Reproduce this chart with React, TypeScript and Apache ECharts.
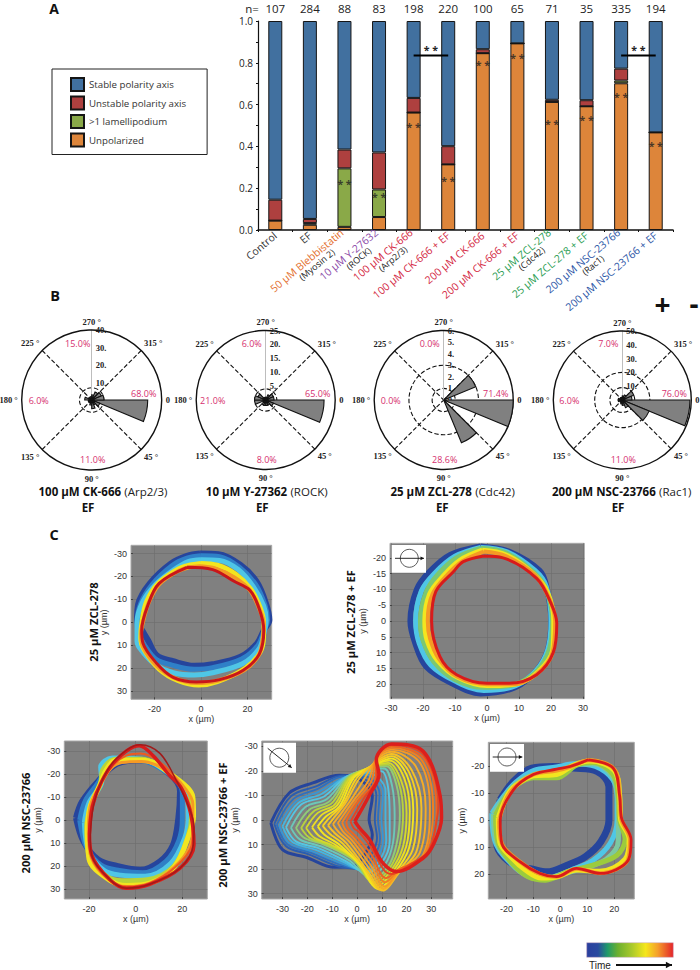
import React, { useEffect, useRef } from "react";
import * as echarts from "echarts";

const categories = ["Control", "EF", "50 µM Blebbistatin", "10 µM Y-27632", "100 µM CK-666", "100 µM CK-666 + EF", "200 µM CK-666", "200 µM CK-666 + EF", "25 µM ZCL-278", "25 µM ZCL-278 + EF", "200 µM NSC-23766", "200 µM NSC-23766 + EF"];
const subLabels = ["", "", "(Myosin 2)", "(ROCK)", "(Arp2/3)", "", "", "", "(Cdc42)", "", "(Rac1)", ""];
const labelTone = ["k", "k", "o", "p", "r", "r", "r", "r", "g", "g", "b", "b"];
const nValues = ["107", "284", "88", "83", "198", "220", "100", "65", "71", "35", "335", "194"];
const unpolarized = [0.045, 0.025, 0.015, 0.062, 0.562, 0.314, 0.846, 0.893, 0.613, 0.592, 0.702, 0.467];
const lamellipodium = [0, 0.008, 0.28, 0.132, 0, 0, 0, 0, 0, 0, 0.013, 0];
const unstable = [0.1, 0.02, 0.09, 0.177, 0.07, 0.087, 0.019, 0, 0.01, 0.029, 0.057, 0];
const stable = [0.855, 0.947, 0.615, 0.629, 0.368, 0.599, 0.135, 0.107, 0.377, 0.379, 0.228, 0.533];
const starMarks = [[2, 0.22], [3, 0.16], [4, 0.494], [5, 0.236], [6, 0.791], [7, 0.822], [8, 0.508], [9, 0.527], [10, 0.637], [11, 0.4]];
const brackets = [[4, 5, 0.835], [10, 11, 0.835]];

const roseBins = [
  [32, 5, 3, 5, 3, 2, 2, 2, 4, 2, 1, 2, 3, 5, 6, 7],
  [21, 3, 2, 2, 2, 2, 1, 4, 4, 3, 1, 1, 1, 2, 3, 3],
  [6, 0, 4, 0, 0, 0, 0, 0, 0, 0, 0, 0, 0, 0, 3, 0],
  [49, 21, 6, 4, 3, 2, 2, 3, 3, 2, 2, 2, 3, 4, 9, 7],
];
const roseMax = [40, 25, 6, 50];
const roseStep = [10, 5, 1, 10];
const roseRings = [[7], [4], [1, 3], [9, 20]];
const rosePercents = [
  ["68.0%", "11.0%", "6.0%", "15.0%"],
  ["65.0%", "8.0%", "21.0%", "6.0%"],
  ["71.4%", "28.6%", "0.0%", "0.0%"],
  ["76.0%", "11.0%", "6.0%", "7.0%"],
];
const roseTitles = [
  ["100 µM CK-666", "(Arp2/3)"],
  ["10 µM Y-27362", "(ROCK)"],
  ["25 µM ZCL-278", "(Cdc42)"],
  ["200 µM NSC-23766", "(Rac1)"],
];

const zcl = [
  [[-0.4, -30], [7.5, -29.7], [17, -25], [24, -17.6], [28, -8], [29.4, -1], [27, 3.5], [24, 9.3], [17, 15], [5, 18.3], [-3, 19], [-12, 17], [-19, 14.4], [-22.7, 8], [-25, 4], [-27.5, -1], [-27, -8], [-22, -17], [-13, -25.6], [-6, -29]],
  [[0, -29], [8, -28.6], [16.5, -24], [23.5, -16.5], [27.5, -7.5], [28.6, -1], [27, 4], [24.5, 10], [17.5, 16], [5, 19.8], [-3, 20.5], [-12, 18.8], [-19.5, 16], [-24, 10.5], [-26.5, 6.5], [-27.5, 0.6], [-26, -8], [-21, -16.5], [-12.5, -24.7], [-6, -28]],
  [[0, -27.3], [8, -27], [16, -23], [22.5, -15.5], [27, -7], [28, -1], [27, 5], [25, 11.5], [18, 18], [5, 22], [-3, 23], [-12, 22], [-19.5, 18.5], [-25, 13], [-27.5, 8.5], [-27.5, 0], [-25, -9], [-19.5, -16.5], [-11.5, -23], [-5.5, -26.5]],
  [[0, -25.8], [7, -25], [15, -21], [21.5, -14.5], [25.5, -6.5], [27, 0], [27, 6], [25.5, 13], [19, 20], [7, 26], [-1, 27.5], [-10, 25.5], [-18, 20.5], [-24.5, 12], [-26, 7], [-25.5, 0], [-23.5, -9], [-18.5, -17], [-10.5, -23], [-5, -25]],
  [[0, -24.5], [6, -23.5], [14.5, -19.5], [21, -14], [25, -6], [27, 1], [26.5, 7], [25, 14], [18.5, 21], [7, 25.5], [-2, 26.5], [-11, 24.5], [-19, 19], [-25, 10.5], [-25.8, 5], [-25, 0], [-22.5, -8.5], [-18, -16.5], [-10.5, -22], [-5, -24]],
  [[-6, -24], [5, -23], [14, -18], [21, -14], [25, -6], [27, 3.5], [25, 14], [18, 21], [8, 25], [-2, 26], [-12, 24], [-19, 18], [-25, 9], [-25.5, 3.5], [-23, -7], [-18, -17]],
];
const zclEf = [
  [[-2, -23.7], [7, -22], [16.5, -16], [18.6, -11], [20, 0], [19, 9], [15.5, 15.5], [9, 21], [-2, 23], [-10.5, 20], [-19, 14.5], [-22.5, 7], [-24, 0], [-22, -10], [-18, -15.6], [-11.5, -21]],
  [[-2, -23.3], [6, -22], [15, -16], [18.5, -11], [20, 0], [19, 9], [15.5, 15.5], [9, 20.5], [-1, 22], [-10, 19], [-17.5, 14], [-21.2, 7], [-22.3, 0], [-20.5, -9.5], [-16.5, -15], [-10, -20.5]],
  [[-2, -23], [6, -21.5], [14.5, -15.5], [18.5, -10], [20.5, 0], [19.5, 9], [15.5, 16], [9, 20], [-1, 21], [-10, 18.5], [-16.5, 13], [-20, 6], [-20.8, 0], [-19, -9], [-15.5, -14.5], [-9.5, -20]],
  [[-1.5, -22.5], [6, -21], [14.5, -15], [19, -9], [20.8, 0], [20.5, 9], [16, 16], [9, 20], [0, 20.5], [-9, 18], [-15.5, 12.5], [-18.8, 6], [-19.5, 0], [-18, -8.5], [-14, -14], [-8.5, -19.3]],
  [[-1, -22], [6, -20.5], [15, -14.5], [19.5, -7], [21.3, 0], [20.5, 10], [15.5, 16.8], [8, 20], [0, 20], [-9.5, 17.5], [-15, 12], [-17.8, 5.5], [-18.5, 0], [-17, -8.5], [-12, -15], [-7.5, -19]],
  [[-1, -20.6], [5, -20], [15.5, -13.5], [20, -5.6], [21.8, 0.7], [20.7, 10], [15.5, 17], [7, 19.7], [0, 19.7], [-9.5, 17], [-14.7, 11.3], [-17.3, 0], [-16, -9.3], [-10.5, -15.6], [-7.4, -18.8]],
];
const nsc = [
  [[-25.6, -0.9], [-23, -8], [-16, -17], [-8, -24.5], [3, -26], [14.7, -19.8], [19, -12.5], [18.3, -0.9], [16, 10.8], [10.4, 18], [1.9, 21.7], [-8, 20], [-16, 17.3], [-22.4, 9.3]],
  [[-24, 0], [-21.5, -8.5], [-15, -18], [-14, -24], [-9, -26.5], [2, -26], [15, -19.5], [20, -12], [20, -0.5], [18.5, 9], [13, 18], [3, 23], [-7, 22], [-15, 19.5], [-21, 12]],
  [[-22, 1], [-20, -7.5], [-14.5, -17], [-15, -23], [-10, -27], [2.5, -26.5], [16, -19], [22, -12], [22.5, -1], [21, 8], [15, 19], [4, 24.5], [-6.5, 24], [-13.5, 22], [-20, 14]],
  [[-21, 2], [-19, -7], [-15, -16], [-14, -22], [-8.5, -26.5], [2.5, -26.5], [17, -18.5], [23.5, -11], [24, -2], [22.5, 7], [16.5, 20], [5, 26], [-6, 26.5], [-12.5, 24.5], [-20, 16]],
  [[-20.7, 3.5], [-19.5, -6], [-15.5, -15], [-12.5, -22], [-8.5, -26], [3, -26], [17.5, -18], [24.5, -10], [24.8, -2], [23, 6], [16.5, 20.5], [6, 27.5], [-4, 28.5], [-11.5, 26], [-20, 17]],
  [[-20.3, 5], [-19.5, -6], [-15, -15.5], [-10.5, -22.5], [-6, -25], [2.5, -25.5], [14, -21], [21, -14], [24.5, -7], [24.5, 3], [23, 12], [16.5, 20.5], [6, 27.5], [-4, 29], [-11.5, 26], [-19, 16.5]],
  [[-20, 5.5], [-19, -6], [-15, -16], [-9.5, -24], [-4, -28], [2, -29], [10, -25.5], [18, -17], [23, -7], [24.5, 3], [24, 11], [17, 20.5], [6, 27.5], [-4, 29], [-11.5, 26], [-19, 16]],
  [[-19.8, 6], [-18.5, -6], [-14.5, -17], [-8.5, -26], [1.5, -32.3], [7.5, -28], [14, -20], [19.5, -14], [23, -5], [24.5, 3], [25, 10.8], [19, 21], [6, 28], [-3.9, 29.7], [-11, 26], [-18.9, 15]],
  [[-19.5, 7], [-18, -6.7], [-13.9, -18.3], [-8, -27], [1.9, -32.8], [10.4, -29], [17.6, -16.9], [23, -5], [25, 3], [24.7, 10.8], [19, 21], [6, 28], [-3.9, 29.7], [-11, 26], [-18.9, 15]],
];
const nscEf = [
  [[-34.7, 1.2], [-27.3, -11], [-17.8, -15.1], [-7, -18.2], [1.1, -16.5], [6.2, -9.7], [4.9, -0.1], [6.2, 6], [3.5, 13.5], [-1.6, 18.9], [-9, 19.3], [-20.5, 15.2], [-30, 12.1]],
  [[-33.3, 1.6], [-26.6, -9.7], [-16.5, -13.7], [-5.7, -18.2], [2.4, -17.1], [7.8, -10.3], [7.2, -0.1], [8.1, 7.3], [5.8, 14.1], [1.1, 19.9], [-7.7, 18.9], [-19.2, 14.1], [-28.6, 10.7]],
  [[-32.3, 1.9], [-25.6, -8.6], [-15.8, -12.7], [-5.3, -17.8], [3.1, -17.8], [9.1, -10.6], [8.5, -0.1], [9.3, 7.6], [6.8, 15.1], [1.8, 20.1], [-7, 18.2], [-18.5, 13.4], [-28, 10]],
  [[-31.3, 2.2], [-24.6, -7.6], [-15.1, -11.7], [-5, -17.4], [3.8, -18.5], [10.5, -11], [9.9, -0.1], [10.5, 8], [7.8, 16.2], [2.4, 20.3], [-6.3, 17.6], [-17.8, 12.8], [-27.3, 9.4]],
  [[-30, 2.6], [-23.5, -7], [-14.1, -10.7], [-4.5, -17.6], [4.5, -19.2], [11.5, -12], [11.5, -0.4], [11.8, 8.4], [8.8, 16.9], [3.1, 21], [-5.3, 17.2], [-16.8, 12.1], [-26, 9]],
  [[-28.6, 3], [-22.5, -6.3], [-13.1, -9.7], [-4, -17.8], [5.1, -19.9], [9.9, -19.9], [12.6, -13], [13.2, -0.8], [13.2, 8.7], [9.9, 17.6], [3.8, 21.6], [-4.3, 16.9], [-15.8, 11.4], [-24.6, 8.7]],
  [[-26.6, 3.2], [-20.8, -5.3], [-12.1, -8.6], [-3.6, -17.8], [5.4, -20.6], [11, -21], [14.2, -13.7], [15.2, -1.5], [14.5, 9.4], [11.2, 18.3], [4.8, 23], [-3, 16.5], [-14.4, 10.8], [-22.9, 8]],
  [[-24.6, 3.3], [-19.2, -4.2], [-11.1, -7.6], [-3.2, -17.8], [5.8, -21.2], [11.9, -21.9], [15.9, -14.4], [17.3, -2.2], [15.9, 10.1], [12.6, 18.9], [5.8, 24.4], [-1.6, 16.2], [-13.1, 10.1], [-21.2, 7.3]],
  [[-22.5, 3.3], [-17.5, -3.5], [-10, -7], [-3, -17.5], [6.1, -21.6], [12.2, -22.6], [16.9, -15], [18.6, -2.5], [17.2, 10.4], [13.2, 19.6], [6.5, 25.4], [-1, 16.2], [-11.8, 10.1], [-19.1, 7.3]],
  [[-20.5, 3.3], [-15.8, -2.9], [-9, -6.3], [-2.7, -17.1], [6.5, -21.9], [12.6, -23.3], [17.9, -15.8], [20, -2.9], [18.6, 10.7], [13.9, 20.3], [7.2, 26.4], [-0.3, 16.2], [-10.4, 10.1], [-17.1, 7.3]],
  [[-18.1, 3], [-14.1, -2.2], [-8, -6], [-2, -17.1], [6.8, -22.2], [13.2, -24.2], [19, -17.2], [21.3, -3.5], [19.8, 11], [14.5, 21], [7.8, 27.2], [0.7, 17.5], [-8.7, 10.1], [-15.1, 6.6]],
  [[-15.8, 2.6], [-12.4, -1.5], [-7, -5.6], [-1.3, -17.1], [7.2, -22.6], [13.9, -25], [20, -18.5], [22.7, -4.2], [21, 11.4], [15.2, 21.6], [8.5, 28], [1.8, 18.9], [-7, 10.1], [-13.1, 6]],
  [[-13.8, 2.4], [-10.9, -1.1], [-5.8, -6.2], [-0.1, -17.1], [7.5, -23.2], [13.9, -26], [21, -19.5], [24.3, -4.5], [22.5, 12], [16.2, 21.3], [9.4, 28.4], [3.1, 20], [-5.6, 9.7], [-11, 5.6]],
  [[-11.7, 2.2], [-9.4, -0.8], [-4.6, -6.9], [1.1, -17.1], [7.8, -23.9], [13.9, -26.9], [22, -20.5], [26, -4.9], [24, 12.8], [17.3, 21], [10.3, 28.8], [4.5, 21], [-4.3, 9.4], [-9, 5.3]],
  [[-9.7, 1.7], [-7.8, -0.8], [-3.1, -7.2], [2.8, -16.5], [7.8, -24.4], [13.9, -27.8], [23.7, -21.9], [27.7, -4.9], [25.3, 13.4], [17.3, 20.7], [10.8, 28], [5.1, 20], [-2.9, 9], [-7.3, 5]],
  [[-7.7, 1.2], [-6.3, -0.8], [-1.6, -7.6], [4.5, -15.8], [7.8, -25], [13.9, -28.7], [25.4, -23.3], [29.4, -4.9], [26.7, 14.1], [17.3, 20.3], [11.2, 27.1], [5.8, 18.9], [-1.6, 8.7], [-5.7, 4.6]],
  [[-6, 1], [-4.7, -1.1], [-0.2, -8], [5.8, -15.8], [8, -25.5], [13.9, -29.4], [26.4, -24], [30.7, -4.2], [27, 14.4], [17, 20.3], [11.4, 25.4], [5.8, 16.5], [-1, 7.7], [-4.6, 4]],
  [[-4.3, 0.8], [-3.2, -1.5], [1.1, -8.3], [7.2, -15.8], [8.1, -26], [13.9, -30], [27.4, -24.6], [32.1, -3.5], [27.4, 14.8], [16.6, 20.3], [11.6, 23.7], [5.8, 14.1], [-0.3, 6.7], [-3.6, 3.3]],
  [[-2.6, 0.6], [-1, -2.2], [3.1, -9.3], [8, -17], [8, -25.3], [13.9, -30.5], [27, -26.3], [32.8, -6.7], [32.5, -2], [29, 12.4], [22, 17.7], [14, 22], [11, 20.5], [5.5, 11], [1, 5], [-1.3, 3.3]],
  [[-0.9, 0.5], [1.1, -2.9], [5.1, -10.3], [8.9, -18.5], [7.8, -24.6], [13.9, -31], [26.7, -28], [33.5, -10], [34.1, -0.8], [30.8, 10], [26.7, 15.5], [16, 21], [10.5, 17.6], [5.1, 8], [1.1, 3.3]],
];
const nscEfRight = [
  [[-22.3, -7.6], [-17.4, -14.4], [-10.6, -19.4], [-2.6, -20], [4.8, -19.4], [13.5, -18.2], [18, -12.5], [18, 0], [15, 8], [9.3, 13.5], [2.3, 16.8], [-5, 19.2], [-11.2, 18], [-16, 17.3], [-23.6, 8.6]],
  [[-25.4, -2.6], [-21, -9], [-16.5, -14.2], [-10, -18.5], [-1.5, -19.8], [5, -21], [13, -20], [19.5, -15], [21, -8], [21, 0], [18.5, 8.5], [12, 15], [4, 18.5], [-5, 21.8], [-11, 21], [-16.5, 17.8], [-23.8, 9]],
  [[-24.8, -2.3], [-20.5, -9], [-16.5, -13.6], [-10, -17], [-1.5, -18], [5.5, -20.7], [12.5, -21], [19.5, -16], [21.2, -8.5], [21.5, 0], [21.5, 7.5], [17, 14.5], [8, 18], [-1, 20.5], [-5.3, 22], [-11.5, 21], [-16.7, 17.5], [-23.4, 8.8]],
  [[-24, -2], [-20, -9], [-16.5, -13], [-10, -15.8], [-1.4, -15.8], [6, -20.5], [12, -21.5], [19.5, -17], [21.5, -9], [22, 0], [24, 7], [21, 13], [11, 17], [3, 19], [-5.5, 22.3], [-12, 21], [-17, 17], [-23, 8.5]],
  [[-23, -1], [-19.5, -9.5], [-16.5, -13], [-10, -16.5], [-1.4, -17], [5, -20.5], [11, -22], [20, -18.5], [22, -9], [22.3, -0.5], [25.5, 7], [24, 14.5], [14.5, 19], [6, 18.5], [-1, 21], [-7, 21.5], [-13, 18.5], [-18, 14], [-22.5, 8]],
  [[-22.7, 0], [-18.5, -10.5], [-10, -17], [-1.4, -18.5], [4, -20], [10.5, -22.3], [20, -19], [22, -9], [22.5, -0.7], [25.8, 7.2], [25, 14.8], [14.7, 19.7], [6, 18], [-1.4, 21], [-7.5, 20], [-15, 15.4], [-21.7, 8.6]],
  [[10.4, -22.5], [19.6, -19.4], [22, -8.8], [22.7, -0.7], [26.2, 7.3], [25.2, 14.8], [14.7, 19.8], [6, 17.9], [-1.4, 21], [-7.5, 19.8], [-15, 15.4], [-21.7, 8.6], [-22.3, 0], [-17.4, -11.3], [-10, -17], [-1.4, -19], [3.6, -20]],
];

const SANS = "'Open Sans', sans-serif";
const SERIF = "'Liberation Serif', serif";
const ARIAL = "'Liberation Sans', sans-serif";
const BAR_COLORS = { stable: "#41709f", unstable: "#ae403f", lamel: "#8aa948", unpol: "#dd853a" };
const TONES: any = { k: "#333333", o: "#e3702f", p: "#8c4aa8", r: "#d3283f", g: "#2a9d52", b: "#2b55a6" };
const COLORS_ZCL = ["#26459c", "#2f80c8", "#4fc6e6", "#f3e51f", "#f59a25", "#c8161a"];
const COLORS_ZCL_EF = ["#26459c", "#4fc6e6", "#7cc870", "#f3e51f", "#f59a25", "#d81b1b"];
const COLORS_NSC = ["#26459c", "#2f7fc6", "#4fc6e6", "#b8d438", "#f3e51f", "#f59a25", "#ee5a20", "#d81b1b", "#a01a1a"];
const COLORS_NSC_EF = ["#26459c", "#2a5db0", "#2d70c0", "#3895d4", "#45b5e0", "#55c5e2", "#6cc8b8", "#90cb78", "#b7d23e", "#d3d92c", "#ecde22", "#f3e51f", "#f6d020", "#f6c025", "#f6ac25", "#f59a25", "#f2801f", "#ee6420", "#e64420", "#dc1f1c"];
const COLORS_RIGHT = ["#26459c", "#4fc6e6", "#7cc8a0", "#9ccb3c", "#f3e51f", "#f59a25", "#d81b1b"];

const ROSES = [
  { cx: 91.7, cy: 400, r: 70, tx: 103, ex: 88 },
  { cx: 265.7, cy: 400, r: 69.5, tx: 266.7, ex: 262.3 },
  { cx: 443.7, cy: 400, r: 69.5, tx: 452.7, ex: 442.3 },
  { cx: 622.3, cy: 400, r: 69, tx: 621.7, ex: 618 },
];
const PCT_OFFSET = [[52, -7], [1, 59], [-53, 0], [-14, -57]];

const PLOTS = [
  { data: zcl, colors: COLORS_ZCL, widths: [6, 5, 5, 4.5, 4, 3], title: "25 µM ZCL-278", tx: 93, ty: 622, box: [131, 545.3, 140.7, 154], xr: [-30.1, 30.4], yr: [-33.6, 33.6], xt: [-20, 0, 20], yt: [-30, -20, -10, 0, 10, 20, 30], nameGap: 23 },
  { data: zclEf, colors: COLORS_ZCL_EF, widths: [5.5, 5, 5, 4.5, 4, 3], title: "25 µM ZCL-278 + EF", tx: 350, ty: 622, box: [390, 543.3, 194.3, 155.4], xr: [-30.3, 30.4], yr: [-24.6, 24.6], xt: [-30, -20, -10, 0, 10, 20, 30], yt: [-20, -15, -10, -5, 0, 5, 10, 15, 20], nameGap: 23 },
  { data: nsc, colors: COLORS_NSC, widths: [6, 5, 5, 5, 5, 3, 2, 3.5, 1.5], title: "200 µM NSC-23766", tx: 25, ty: 823, box: [64.3, 741, 143, 158], xr: [-30.6, 30.7], yr: [-34.4, 34.4], xt: [-20, 0, 20], yt: [-30, -20, -10, 0, 10, 20, 30], nameGap: 22 },
  { data: nscEf, colors: COLORS_NSC_EF, widths: [3, 1.9, 1.9, 1.9, 1.9, 1.9, 1.9, 1.9, 1.9, 1.9, 1.9, 1.9, 1.9, 1.9, 1.9, 1.9, 1.9, 1.9, 1.9, 3.5], title: "200 µM NSC-23766 + EF", tx: 222.7, ty: 825, box: [261.7, 741, 191, 158], xr: [-38.4, 38.6], yr: [-32.2, 32.2], xt: [-30, -20, -10, 0, 10, 20, 30], yt: [-30, -20, -10, 0, 10, 20, 30], nameGap: 22 },
  { data: nscEfRight, colors: COLORS_RIGHT, widths: [7, 5, 5, 5, 5, 4, 2.8], title: "", tx: 0, ty: 0, box: [488.3, 742.3, 146, 156.7], xr: [-26.7, 27.4], yr: [-29, 29.3], xt: [-20, -10, 0, 10, 20], yt: [-20, -10, 0, 10, 20], nameGap: 22 },
];
const INSETS = [
  { box: [391.7, 545, 34.3, 27.7], c: [409.3, 558.3], r: 9, a: [395, 558.3, 424, 558.3] },
  { box: [263.3, 742.7, 32.7, 30], c: [279.3, 757.7], r: 9.5, a: [267.7, 748.3, 291.7, 767.7] },
  { box: [490, 744, 34, 27.7], c: [507, 757], r: 9, a: [492.7, 757, 522.3, 757] },
];

function arrow(x1: number, y1: number, x2: number, y2: number, w: number, head: number) {
  const ang = Math.atan2(y2 - y1, x2 - x1);
  const p = (a: number) => [x2 - head * Math.cos(ang + a), y2 - head * Math.sin(ang + a)];
  return [
    { type: "line", z: 100, shape: { x1, y1, x2, y2 }, style: { stroke: "#111", lineWidth: w } },
    { type: "polygon", z: 100, shape: { points: [[x2, y2], p(0.5), p(-0.5)] }, style: { fill: "#111" } },
  ];
}

function buildOption() {
  const series: any[] = [];
  const grid: any[] = [{ left: 258, top: 21, width: 415, height: 209 }];
  const tone = (color: string) => ({ color, fontFamily: SANS, fontSize: 10.5, align: "center", lineHeight: 11 });
  const xAxis: any[] = [
    {
      type: "category", gridIndex: 0, data: categories,
      axisLine: { lineStyle: { color: "#111", width: 1.5 } },
      axisTick: { show: true, length: 2, lineStyle: { color: "#111" } },
      axisLabel: {
        interval: 0, rotate: 40, margin: 4,
        formatter: (v: string) => {
          const i = categories.indexOf(v);
          const main = `{${labelTone[i]}|${v}}`;
          return subLabels[i] ? `${main}\n{s|${subLabels[i]}}` : main;
        },
        rich: {
          k: tone(TONES.k), o: tone(TONES.o), p: tone(TONES.p), r: tone(TONES.r), g: tone(TONES.g), b: tone(TONES.b),
          s: { color: "#222", fontFamily: SANS, fontSize: 9, align: "center", lineHeight: 8, padding: [0, 0, 0, 10] },
        },
      },
    },
    {
      type: "category", gridIndex: 0, data: nValues, position: "top",
      axisLine: { show: false }, axisTick: { show: false },
      axisLabel: { interval: 0, margin: 7, color: "#222", fontFamily: SANS, fontSize: 11.5 },
    },
  ];
  const yAxis: any[] = [
    {
      type: "value", gridIndex: 0, min: 0, max: 1, interval: 0.2,
      axisLine: { show: true, lineStyle: { color: "#111", width: 1.2 } },
      axisTick: { show: true, length: 2, lineStyle: { color: "#111" } },
      minorTick: { show: true, splitNumber: 2, length: 2, lineStyle: { color: "#111" } },
      splitLine: { show: false },
      axisLabel: { color: "#222", fontFamily: SANS, fontSize: 10, margin: 5, formatter: (v: number) => v.toFixed(1) },
    },
  ];

  const barSeries = [
    ["Unpolarized", unpolarized, BAR_COLORS.unpol],
    [">1 lamellipodium", lamellipodium, BAR_COLORS.lamel],
    ["Unstable polarity axis", unstable, BAR_COLORS.unstable],
    ["Stable polarity axis", stable, BAR_COLORS.stable],
  ];
  barSeries.forEach(([name, data, color]: any) => {
    series.push({ type: "bar", name, data, stack: "a", barWidth: 14, xAxisIndex: 0, yAxisIndex: 0, itemStyle: { color, borderColor: "#151515", borderWidth: 1 } });
  });
  series.push({
    type: "scatter", data: starMarks, xAxisIndex: 0, yAxisIndex: 0, symbolSize: 1, itemStyle: { color: "rgba(0,0,0,0)" }, z: 5,
    label: { show: true, formatter: "* *", position: "inside", color: "#222", fontFamily: SANS, fontSize: 10.5, fontWeight: "bold" },
  });
  brackets.forEach(([a, b, v]) => {
    series.push({
      type: "line", data: [[a, v], [b, v]], xAxisIndex: 0, yAxisIndex: 0, symbol: "none", z: 6, lineStyle: { color: "#000", width: 2 },
      markLine: {
        silent: true, symbol: "none", lineStyle: { color: "rgba(0,0,0,0)" },
        label: { show: true, position: "middle", formatter: "* *", distance: 0, color: "#222", fontFamily: SANS, fontSize: 10.5, fontWeight: "bold" },
        data: [[{ coord: [a, v] }, { coord: [b, v] }]],
      },
    });
  });

  PLOTS.forEach((p, k) => {
    const gi = k + 1;
    const ax = k + 2;
    grid.push({ show: true, left: p.box[0], top: p.box[1], width: p.box[2], height: p.box[3], backgroundColor: "#808080", borderColor: "#a8a8a8", borderWidth: 1 });
    xAxis.push({
      type: "value", gridIndex: gi, min: p.xr[0], max: p.xr[1], name: "x (µm)", nameLocation: "middle", nameGap: 15,
      nameTextStyle: { fontFamily: ARIAL, fontSize: 9, color: "#333" },
      axisLine: { show: false, onZero: false },
      axisTick: { show: true, inside: true, length: 2, customValues: p.xt, lineStyle: { color: "#444" } },
      axisLabel: { customValues: p.xt, margin: 5, fontFamily: ARIAL, fontSize: 9, color: "#333" },
      splitLine: { show: true, lineStyle: { color: "#6e6e6e", width: 0.7 } },
    });
    yAxis.push({
      type: "value", gridIndex: gi, inverse: true, min: p.yr[0], max: p.yr[1], name: "y (µm)", nameLocation: "middle", nameGap: p.nameGap,
      nameTextStyle: { fontFamily: ARIAL, fontSize: 9, color: "#333" },
      axisLine: { show: false, onZero: false },
      axisTick: { show: true, inside: true, length: 2, customValues: p.yt, lineStyle: { color: "#444" } },
      axisLabel: { customValues: p.yt, margin: 4, fontFamily: ARIAL, fontSize: 9, color: "#333" },
      splitLine: { show: true, lineStyle: { color: "#6e6e6e", width: 0.7 } },
    });
    p.data.forEach((c: number[][], i: number) => {
      series.push({
        type: "line", data: [...c, c[0]], xAxisIndex: ax, yAxisIndex: gi, symbol: "none", smooth: 0.35, clip: true,
        lineStyle: { color: p.colors[i], width: p.widths[i] }, z: 3,
      });
    });
  });

  const polar: any[] = [];
  const angleAxis: any[] = [];
  const radiusAxis: any[] = [];
  ROSES.forEach((r, i) => {
    const a = i * 2;
    const b = a + 1;
    polar.push({ center: [r.cx, r.cy], radius: [0, r.r] }, { center: [r.cx, r.cy], radius: [0, r.r] });
    angleAxis.push({
      polarIndex: a, type: "value", min: -90, max: 270, interval: 45, startAngle: 90, clockwise: true,
      axisLine: { show: true, lineStyle: { color: "#111", width: 1.4 } },
      axisTick: { show: false, customValues: [-45, 45, 135, 225] },
      splitLine: { show: true, lineStyle: { color: "#111", type: "dashed", width: 1.1 } },
      axisLabel: {
        show: true, margin: 4, fontFamily: SERIF, fontWeight: "bold", fontSize: 8.5, color: "#222",
        formatter: (v: number) => (v === 0 ? "0" : `${v < 0 ? v + 360 : v} °`),
      },
    });
    radiusAxis.push({
      polarIndex: a, type: "value", min: 0, max: roseMax[i], interval: roseStep[i],
      axisLine: { show: true, lineStyle: { color: "#bdbdbd", width: 1 } },
      axisTick: { show: false }, splitLine: { show: false },
      axisLabel: { show: true, align: "left", margin: -4, fontFamily: SERIF, fontWeight: "bold", fontSize: 8.5, color: "#222", formatter: (v: number) => `${v}.` },
    });
    angleAxis.push({
      polarIndex: b, type: "category", data: roseBins[i].map((_, j) => String(j)), startAngle: 0, clockwise: true,
      axisLine: { show: false }, axisTick: { show: false }, axisLabel: { show: false }, splitLine: { show: false },
    });
    radiusAxis.push({
      polarIndex: b, type: "value", min: 0, max: roseMax[i],
      axisLine: { show: false }, axisLabel: { show: false },
      axisTick: { show: false, customValues: roseRings[i] },
      splitLine: { show: true, lineStyle: { color: "#111", type: "dashed", width: 1.1 } },
    });
    series.push({
      type: "bar", coordinateSystem: "polar", polarIndex: b, data: roseBins[i], barCategoryGap: "0%", z: 4,
      itemStyle: { color: "#808080", borderColor: "#111", borderWidth: 1.1 },
    });
  });

  const txt = (text: string, x: number, y: number, size: number, extra: any = {}, style: any = {}) => ({
    type: "text", x, y, z: 100, ...extra,
    style: { text, fontSize: size, fontFamily: SANS, fill: "#111", align: "center", verticalAlign: "middle", ...style },
  });
  const graphic: any[] = [
    txt("A", 54, 8, 14, {}, { fontWeight: "bold" }),
    txt("B", 55, 295, 14.5, {}, { fontWeight: "bold" }),
    txt("C", 54, 534, 14.5, {}, { fontWeight: "bold" }),
    txt("n=", 252, 8, 11.5, {}, { fill: "#222" }),
    txt("+", 662.5, 304, 28, {}, { fontWeight: "bold" }),
    txt("-", 694, 303, 28, {}, { fontWeight: "bold" }),
  ];
  ROSES.forEach((r, i) => {
    rosePercents[i].forEach((t, j) => {
      graphic.push(txt(t, r.cx + PCT_OFFSET[j][0], r.cy + PCT_OFFSET[j][1], 9, {}, { fill: "#d6306f" }));
    });
    graphic.push({
      type: "text", x: r.tx, y: 491, z: 100,
      style: {
        text: `{b|${roseTitles[i][0]}} {n|${roseTitles[i][1]}}`, align: "center", verticalAlign: "middle",
        rich: {
          b: { fontFamily: SANS, fontSize: 11.5, fontWeight: "bold", fill: "#111", color: "#111" },
          n: { fontFamily: SANS, fontSize: 11.5, fill: "#222", color: "#222" },
        },
      },
    });
    graphic.push(txt("EF", r.ex, 507, 11.5, {}, { fontWeight: "bold" }));
  });
  PLOTS.forEach((p) => {
    if (p.title) graphic.push(txt(p.title, p.tx, p.ty, 11.2, { rotation: Math.PI / 2, originX: 0, originY: 0 }, { fontWeight: "bold" }));
  });
  INSETS.forEach((n) => {
    graphic.push({ type: "rect", z: 99, shape: { x: n.box[0], y: n.box[1], width: n.box[2], height: n.box[3] }, style: { fill: "#fff" } });
    graphic.push({ type: "circle", z: 100, shape: { cx: n.c[0], cy: n.c[1], r: n.r }, style: { fill: "none", stroke: "#333", lineWidth: 0.8 } });
    graphic.push(...arrow(n.a[0], n.a[1], n.a[2], n.a[3], 0.9, 4));
  });
  graphic.push({
    type: "rect", z: 100, shape: { x: 586.7, y: 942.7, width: 86.6, height: 14.6 },
    style: {
      fill: new echarts.graphic.LinearGradient(0, 0, 1, 0, [
        { offset: 0, color: "#2a3f9e" }, { offset: 0.13, color: "#2a4aa0" }, { offset: 0.24, color: "#1f9a6a" },
        { offset: 0.36, color: "#6cb02f" }, { offset: 0.52, color: "#a9c92a" }, { offset: 0.68, color: "#f5e71a" },
        { offset: 0.82, color: "#f59f2a" }, { offset: 1, color: "#e3232a" },
      ]),
      stroke: "#c9a8c0", lineWidth: 0.5,
    },
  });
  graphic.push(txt("Time", 600, 965, 10, {}, { fontFamily: ARIAL, fill: "#222" }));
  graphic.push(...arrow(616, 965, 672, 965, 2, 7));

  return {
    animation: false,
    backgroundColor: "#fff",
    legend: {
      left: 52, top: 69, orient: "vertical", padding: [8, 21, 7, 18], itemGap: 3.5, itemWidth: 13, itemHeight: 13,
      data: ["Stable polarity axis", "Unstable polarity axis", ">1 lamellipodium", "Unpolarized"],
      borderColor: "#222", borderWidth: 1, icon: "rect", selectedMode: false,
      textStyle: { fontFamily: SANS, fontSize: 9.7, color: "#333" },
    },
    grid, xAxis, yAxis, polar, angleAxis, radiusAxis, series, graphic,
  };
}

export default function App() {
  const ref = useRef<HTMLDivElement>(null);
  useEffect(() => {
    const chart = echarts.init(ref.current!, undefined, { renderer: "svg" });
    chart.setOption(buildOption() as any);
    return () => chart.dispose();
  }, []);
  return <div ref={ref} style={{ position: "absolute", left: 0, top: 0, width: 700, height: 970 }} />;
}
